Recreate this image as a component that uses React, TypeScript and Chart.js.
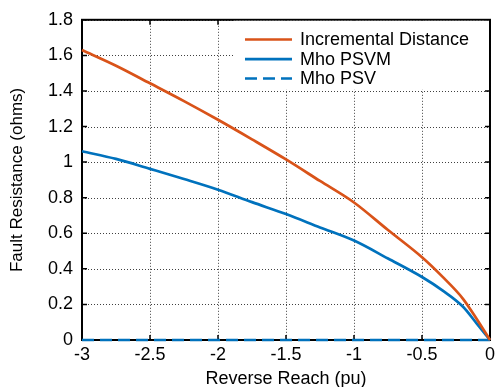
import React, { useEffect, useRef } from "react";
import { Chart, registerables } from "chart.js";

Chart.register(...registerables);

// Reverse reach (pu) sample points
const reach = [-3, -2.75, -2.5, -2.25, -2, -1.75, -1.5, -1.25, -1, -0.75, -0.5, -0.35, -0.2, -0.1, 0];

// Fault resistance coverage (ohms)
const incrementalDistance = [1.63, 1.542, 1.443, 1.343, 1.238, 1.128, 1.015, 0.894, 0.773, 0.618, 0.465, 0.356, 0.233, 0.121, 0];
const mhoPSVM = [1.061, 1.018, 0.962, 0.905, 0.845, 0.775, 0.708, 0.633, 0.559, 0.458, 0.354, 0.279, 0.188, 0.095, 0];
const mhoPSV = [0, 0, 0, 0, 0, 0, 0, 0, 0, 0, 0, 0, 0, 0, 0];

const seriesLabels = ["Incremental Distance", "Mho PSVM", "Mho PSV"];

const xTickLabels = ["-3", "-2.5", "-2", "-1.5", "-1", "-0.5", "0"];
const yTickLabels = ["0", "0.2", "0.4", "0.6", "0.8", "1", "1.2", "1.4", "1.6", "1.8"];

const RED = "#D95319";
const BLUE = "#0072BD";
const FONT = "'Liberation Sans', Arial, Helvetica, sans-serif";

const toPoints = (ys: number[]) => reach.map((x, i) => ({ x, y: ys[i] }));

// Dotted grid, box, inward tick marks and an in-plot legend, drawn in MATLAB style
const framePlugin = {
  id: "frame",
  beforeDatasetsDraw(chart: any) {
    const { ctx, chartArea: a, scales } = chart;
    const tick = 5;
    ctx.save();
    // dotted grid
    ctx.strokeStyle = "rgba(0,0,0,0.75)";
    ctx.lineWidth = 1;
    ctx.setLineDash([1, 2]);
    ctx.beginPath();
    for (const t of scales.x.ticks) {
      const px = Math.round(scales.x.getPixelForValue(t.value)) + 0.5;
      ctx.moveTo(px, a.top);
      ctx.lineTo(px, a.bottom);
    }
    for (const t of scales.y.ticks) {
      const py = Math.round(scales.y.getPixelForValue(t.value)) + 0.5;
      ctx.moveTo(a.left, py);
      ctx.lineTo(a.right, py);
    }
    ctx.stroke();
    ctx.setLineDash([]);
    // inward ticks
    ctx.strokeStyle = "#000";
    ctx.lineWidth = 1.5;
    ctx.beginPath();
    for (const t of scales.x.ticks) {
      const px = scales.x.getPixelForValue(t.value);
      ctx.moveTo(px, a.bottom);
      ctx.lineTo(px, a.bottom - tick);
      ctx.moveTo(px, a.top);
      ctx.lineTo(px, a.top + tick);
    }
    for (const t of scales.y.ticks) {
      const py = scales.y.getPixelForValue(t.value);
      ctx.moveTo(a.left, py);
      ctx.lineTo(a.left + tick, py);
      ctx.moveTo(a.right, py);
      ctx.lineTo(a.right - tick, py);
    }
    ctx.stroke();
    ctx.lineWidth = 2;
    ctx.strokeRect(a.left, a.top, a.right - a.left, a.bottom - a.top);
    ctx.restore();
  },
  afterDatasetsDraw(chart: any) {
    const { ctx, chartArea: a } = chart;
    ctx.save();
    ctx.fillStyle = "#fff";
    ctx.fillRect(a.right - 256, a.top + 1, 255, 69);
    const rows = [19.7, 39.3, 58.7];
    chart.data.datasets.forEach((ds: any, i: number) => {
      const y = a.top + rows[i];
      ctx.strokeStyle = ds.borderColor;
      ctx.lineWidth = ds.borderWidth;
      ctx.setLineDash(ds.borderDash || []);
      ctx.beginPath();
      ctx.moveTo(a.right - 245, y);
      ctx.lineTo(a.right - 198, y);
      ctx.stroke();
      ctx.setLineDash([]);
      ctx.fillStyle = "#000";
      ctx.font = `18px ${FONT}`;
      ctx.textBaseline = "middle";
      ctx.textAlign = "left";
      ctx.fillText(ds.label, a.right - 190, y + 1);
    });
    ctx.restore();
  },
};

export default function App() {
  const ref = useRef<HTMLCanvasElement | null>(null);

  useEffect(() => {
    if (!ref.current) return;
    const line = (label: string, ys: number[], color: string, dash?: number[]) => ({
      label,
      data: toPoints(ys),
      borderColor: color,
      borderWidth: 2.7,
      borderDash: dash,
      pointRadius: 0,
      cubicInterpolationMode: "monotone" as const,
      clip: 4,
    });
    const chart = new Chart(ref.current, {
      type: "line",
      data: {
        datasets: [
          line(seriesLabels[0], incrementalDistance, RED),
          line(seriesLabels[1], mhoPSVM, BLUE),
          line(seriesLabels[2], mhoPSV, BLUE, [12, 6]),
        ],
      },
      options: {
        responsive: false,
        animation: false,
        events: [],
        layout: { padding: { top: 18, right: 7, left: 0, bottom: 0 } },
        plugins: { legend: { display: false }, tooltip: { enabled: false } },
        scales: {
          x: {
            type: "linear",
            min: -3,
            max: 0,
            afterFit: (s: any) => {
              s.height = 47;
            },
            afterBuildTicks: (s: any) => {
              s.ticks = xTickLabels.map((l) => ({ value: Number(l) }));
            },
            ticks: {
              color: "#000",
              font: { family: FONT, size: 18 },
              padding: 4,
              maxRotation: 0,
              callback: (_v: any, i: number) => xTickLabels[i],
            },
            grid: { display: false, drawTicks: false },
            border: { display: false },
            title: {
              display: true,
              text: "Reverse Reach (pu)",
              color: "#000",
              font: { family: FONT, size: 18 },
              padding: { top: 0, bottom: -3 },
            },
          },
          y: {
            type: "linear",
            min: 0,
            max: 1.8,
            afterFit: (s: any) => {
              s.width = 82;
            },
            afterBuildTicks: (s: any) => {
              s.ticks = yTickLabels.map((l) => ({ value: Number(l) }));
            },
            ticks: {
              color: "#000",
              font: { family: FONT, size: 18 },
              padding: 9,
              callback: (_v: any, i: number) => yTickLabels[i],
            },
            grid: { display: false, drawTicks: false },
            border: { display: false },
            title: {
              display: true,
              text: "Fault Resistance (ohms)",
              color: "#000",
              font: { family: FONT, size: 17 },
              padding: { top: 7, bottom: 0 },
            },
          },
        },
      },
      plugins: [framePlugin],
    });
    return () => chart.destroy();
  }, []);

  return (
    <div style={{ position: "absolute", left: 0, top: 0, width: 499, height: 387, background: "#fff" }}>
      <canvas ref={ref} width={499} height={387} style={{ display: "block" }} />
    </div>
  );
}
